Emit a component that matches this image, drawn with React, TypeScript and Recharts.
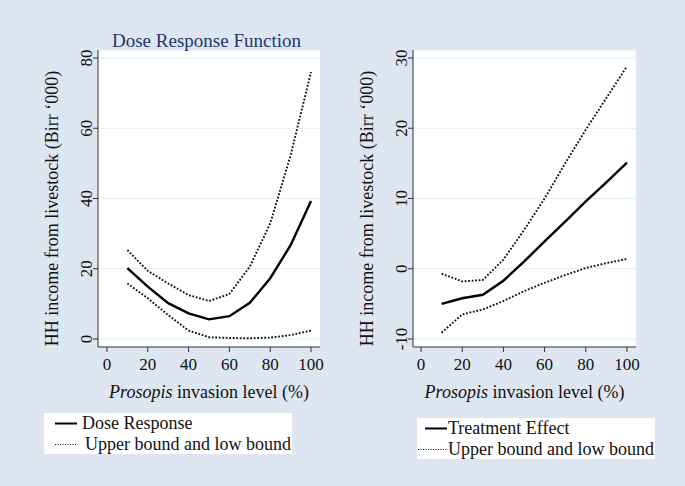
import { LineChart, Line, XAxis, YAxis, CartesianGrid, Label } from 'recharts';

const levels = [10, 20, 30, 40, 50, 60, 70, 80, 90, 100];

// left panel: dose response function
const doseResponse = [20.2, 14.9, 10.2, 7.3, 5.6, 6.5, 10.3, 17.3, 26.7, 39.3];
const doseUpper = [25.3, 19.4, 15.8, 12.5, 10.8, 12.8, 20.6, 32.9, 52.3, 76.0];
const doseLower = [15.8, 11.6, 6.8, 2.4, 0.5, 0.3, 0.2, 0.4, 1.1, 2.4];

// right panel: treatment effect
const effect = [-5.0, -4.2, -3.7, -1.7, 1.0, 3.9, 6.7, 9.6, 12.3, 15.1];
const effectUpper = [-0.7, -1.8, -1.6, 1.3, 5.5, 10.0, 15.0, 19.8, 24.3, 28.8];
const effectLower = [-9.1, -6.5, -5.8, -4.6, -3.2, -2.0, -0.9, 0.1, 0.8, 1.4];

const xTicks = [0, 20, 40, 60, 80, 100];
const doseTicks = [0, 20, 40, 60, 80];
const effectTicks = [-10, 0, 10, 20, 30];

const yTitle = 'HH income from livestock (Birr \u2018000)';

const doseRows = levels.map((x, i) => ({ x, mid: doseResponse[i], hi: doseUpper[i], lo: doseLower[i] }));
const effectRows = levels.map((x, i) => ({ x, mid: effect[i], hi: effectUpper[i], lo: effectLower[i] }));

const serif = '"Liberation Serif", "Times New Roman", serif';
const bg = '#dde6f1';
const axisColor = '#333';

function YTick(props: any) {
  const { x, y, payload } = props;
  return (
    <text
      x={x}
      y={y}
      transform={`rotate(-90 ${x} ${y})`}
      textAnchor="middle"
      fontFamily={serif}
      fontSize={17}
      fill="#111"
    >
      {payload.value}
    </text>
  );
}

function XTitle(props: any) {
  const vb = props.viewBox;
  return (
    <text x={vb.x + vb.width / 2} y={vb.y + 51} textAnchor="middle" fontFamily={serif} fontSize={18} fill="#111">
      <tspan fontStyle="italic">Prosopis</tspan> invasion level (%)
    </text>
  );
}

function makeYTitle(withHeading: boolean) {
  return (props: any) => {
    const vb = props.viewBox;
    const bx = vb.x + 20;
    const cy = vb.y + vb.height / 2 + 10;
    return (
      <g>
        <text
          x={bx}
          y={cy}
          transform={`rotate(-90 ${bx} ${cy})`}
          textAnchor="middle"
          fontFamily={serif}
          fontSize={18}
          fill="#111"
        >
          {yTitle}
        </text>
        {withHeading && (
          <text x={vb.x + 74} y={47} fontFamily={serif} fontSize={19} fill="#26376a">
            Dose Response Function
          </text>
        )}
      </g>
    );
  };
}

function Panel(p: {
  rows: any[];
  width: number;
  left: number;
  right: number;
  yDomain: [number, number];
  xDomain: [number, number];
  yTicks: number[];
  heading: boolean;
}) {
  return (
    <LineChart
      width={p.width}
      height={486}
      data={p.rows}
      margin={{ top: 50, right: p.right, bottom: 109, left: p.left }}
    >
      <CartesianGrid vertical={false} stroke="#e4edf1" fill="#ffffff" fillOpacity={1} />
      <XAxis
        dataKey="x"
        type="number"
        domain={p.xDomain}
        ticks={xTicks}
        allowDataOverflow
        height={30}
        stroke={axisColor}
        tickSize={5}
        tickMargin={6}
        tick={{ fontFamily: serif, fontSize: 17, fill: '#111' }}
        interval={0}
      >
        <Label content={XTitle} />
      </XAxis>
      <YAxis
        type="number"
        domain={p.yDomain}
        ticks={p.yTicks}
        allowDataOverflow
        width={60}
        stroke={axisColor}
        tickSize={5}
        tickMargin={1}
        tick={YTick}
        interval={0}
      >
        <Label content={makeYTitle(p.heading)} />
      </YAxis>
      <Line dataKey="hi" type="linear" stroke="#111" strokeWidth={1.9} strokeDasharray="1.8 1.7" dot={false} isAnimationActive={false} />
      <Line dataKey="lo" type="linear" stroke="#111" strokeWidth={1.9} strokeDasharray="1.8 1.7" dot={false} isAnimationActive={false} />
      <Line dataKey="mid" type="linear" stroke="#000" strokeWidth={2.4} dot={false} isAnimationActive={false} />
    </LineChart>
  );
}

function LegendBox(p: { left: number; top: number; width: number; first: string; solidFrom: number; dotFrom: number; firstX: number; secondX: number }) {
  return (
    <svg style={{ position: 'absolute', left: p.left, top: p.top }} width={p.width} height={41}>
      <rect x={0} y={0} width={p.width} height={41} fill="#ffffff" />
      <line x1={p.solidFrom} x2={p.solidFrom + 22} y1={10.5} y2={10.5} stroke="#000" strokeWidth={2} />
      <text x={p.firstX} y={16} fontFamily={serif} fontSize={18} fill="#111">
        {p.first}
      </text>
      <line x1={p.dotFrom} x2={p.solidFrom + 22} y1={31.5} y2={31.5} stroke="#111" strokeWidth={1} strokeDasharray="1 1.5" />
      <text x={p.secondX} y={37} fontFamily={serif} fontSize={18} fill="#111">
        Upper bound and low bound
      </text>
    </svg>
  );
}

export default function App() {
  return (
    <div style={{ position: 'absolute', left: 0, top: 0, width: 685, height: 486, background: bg, overflow: 'hidden' }}>
      <div style={{ position: 'absolute', left: 0, top: 0 }}>
        <Panel rows={doseRows} width={340} left={38} right={20} yDomain={[-2.28, 82.28]} xDomain={[-4.4, 104.4]} yTicks={doseTicks} heading />
      </div>
      <div style={{ position: 'absolute', left: 340, top: 0 }}>
        <Panel rows={effectRows} width={345} left={13} right={49} yDomain={[-11.14, 31.14]} xDomain={[-3.9, 104.4]} yTicks={effectTicks} heading={false} />
      </div>
      <LegendBox left={44} top={413} width={248} first="Dose Response" solidFrom={11} dotFrom={11} firstX={38} secondX={41} />
      <LegendBox left={417} top={418} width={238} first="Treatment Effect" solidFrom={8} dotFrom={1} firstX={31} secondX={31} />
    </div>
  );
}
